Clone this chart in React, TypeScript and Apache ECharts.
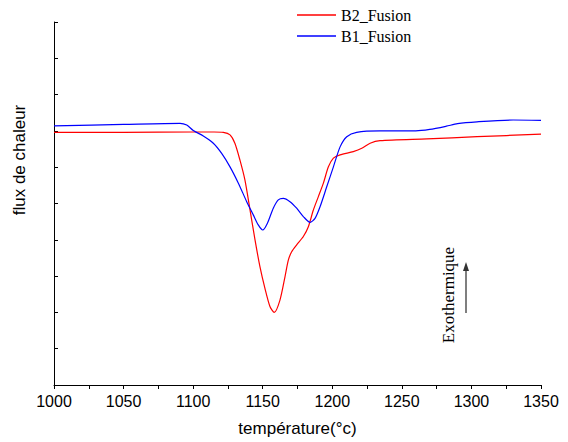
import React, { useEffect, useRef } from "react";
import * as echarts from "echarts";

const redT = [1000, 1050, 1100, 1115, 1121.7, 1126.5, 1130, 1133.6, 1137.2, 1140.9, 1144.5, 1148, 1151.6, 1155.2, 1158.3, 1162.4, 1166, 1168.4, 1170.8, 1174.4, 1179.2, 1182.8, 1186.4, 1190, 1193.6, 1197.2, 1200.8, 1205.6, 1215.1, 1221.2, 1227.2, 1234.3, 1268, 1304, 1350];
const redV = [6.96, 6.96, 6.97, 6.97, 6.96, 6.89, 6.66, 6.2, 5.65, 4.82, 3.99, 3.26, 2.66, 2.16, 2.0, 2.34, 2.98, 3.44, 3.67, 3.86, 4.09, 4.36, 4.82, 5.19, 5.56, 6.01, 6.25, 6.34, 6.43, 6.52, 6.66, 6.73, 6.78, 6.84, 6.91];

const blueT = [1000, 1050, 1090.6, 1095.4, 1100.1, 1107.3, 1114.5, 1120.5, 1126.5, 1132.5, 1138.5, 1143.3, 1146.8, 1150, 1153.3, 1157.6, 1161.2, 1164.8, 1169.6, 1174.4, 1179.2, 1184, 1187.6, 1191.2, 1196, 1200.8, 1205.6, 1210.4, 1217.5, 1234.3, 1260, 1270, 1282, 1290, 1304, 1330, 1350];
const blueV = [7.14, 7.18, 7.21, 7.16, 7.01, 6.86, 6.66, 6.38, 6.01, 5.56, 5.05, 4.68, 4.41, 4.27, 4.45, 4.87, 5.1, 5.14, 5.05, 4.87, 4.64, 4.48, 4.59, 4.91, 5.46, 6.01, 6.56, 6.84, 6.96, 7.0, 7.0, 7.04, 7.13, 7.2, 7.25, 7.3, 7.29];

const seriesNames = ["B2_Fusion", "B1_Fusion"];
const xTicks = [1000, 1050, 1100, 1150, 1200, 1250, 1300, 1350];

export default function App() {
  const ref = useRef<HTMLDivElement>(null);
  useEffect(() => {
    if (!ref.current) return;
    const chart = echarts.init(ref.current, null, { renderer: "svg" });
    const sans = "'Liberation Sans', Arial, sans-serif";
    const serif = "'Liberation Serif', 'Times New Roman', serif";
    chart.setOption({
      animation: false,
      backgroundColor: "#fff",
      grid: { left: 54, right: 27, top: 22, bottom: 57 },
      legend: {
        orient: "vertical",
        left: 292,
        top: 2,
        itemWidth: 39,
        itemHeight: 1.5,
        itemGap: 5,
        icon: "rect",
        textStyle: { fontFamily: serif, fontSize: 16, color: "#000" },
        data: seriesNames,
      },
      xAxis: {
        type: "value",
        min: xTicks[0],
        max: xTicks[xTicks.length - 1],
        interval: 50,
        name: "température(°c)",
        nameLocation: "middle",
        nameGap: 35,
        nameTextStyle: { fontFamily: sans, fontSize: 17, color: "#000" },
        axisLine: { lineStyle: { color: "#000", width: 1 } },
        axisTick: { show: true, inside: false, length: 4, lineStyle: { color: "#000" } },
        minorTick: { show: true, splitNumber: 2, length: 4, lineStyle: { color: "#000" } },
        axisLabel: { fontFamily: sans, fontSize: 16, color: "#000", margin: 8, formatter: (v: number) => String(v) },
        splitLine: { show: false },
      },
      yAxis: {
        type: "value",
        min: 0,
        max: 10,
        interval: 1,
        axisLine: { show: true, lineStyle: { color: "#000", width: 1 } },
        axisTick: { show: true, inside: true, length: 4, lineStyle: { color: "#000" } },
        axisLabel: { show: false },
        splitLine: { show: false },
      },
      series: [
        {
          name: seriesNames[0],
          type: "line",
          data: redT.map((t, i) => [t, redV[i]]),
          smooth: 0.25,
          showSymbol: false,
          lineStyle: { color: "#ff0000", width: 1.2 },
          itemStyle: { color: "#ff0000" },
        },
        {
          name: seriesNames[1],
          type: "line",
          data: blueT.map((t, i) => [t, blueV[i]]),
          smooth: 0.25,
          showSymbol: false,
          lineStyle: { color: "#0000ff", width: 1.2 },
          itemStyle: { color: "#0000ff" },
        },
      ],
      graphic: [
        {
          type: "text",
          x: 19,
          y: 160,
          rotation: Math.PI / 2,
          style: {
            text: "flux de chaleur",
            fontFamily: sans,
            fontSize: 17,
            fill: "#000",
            align: "center",
            verticalAlign: "middle",
          },
        },
        {
          type: "text",
          x: 448,
          y: 295,
          rotation: Math.PI / 2,
          style: {
            text: "Exothermique",
            fontFamily: serif,
            fontSize: 17,
            fill: "#000",
            align: "center",
            verticalAlign: "middle",
          },
        },
        {
          type: "line",
          shape: { x1: 466, y1: 313, x2: 466, y2: 268 },
          style: { stroke: "#555", lineWidth: 1.5 },
        },
        {
          type: "polygon",
          shape: { points: [[466, 262], [463, 271], [469, 271]] },
          style: { fill: "#333" },
        },
      ],
    });
    return () => chart.dispose();
  }, []);
  return <div ref={ref} style={{ width: 568, height: 442, position: "absolute", left: 0, top: 0 }} />;
}
